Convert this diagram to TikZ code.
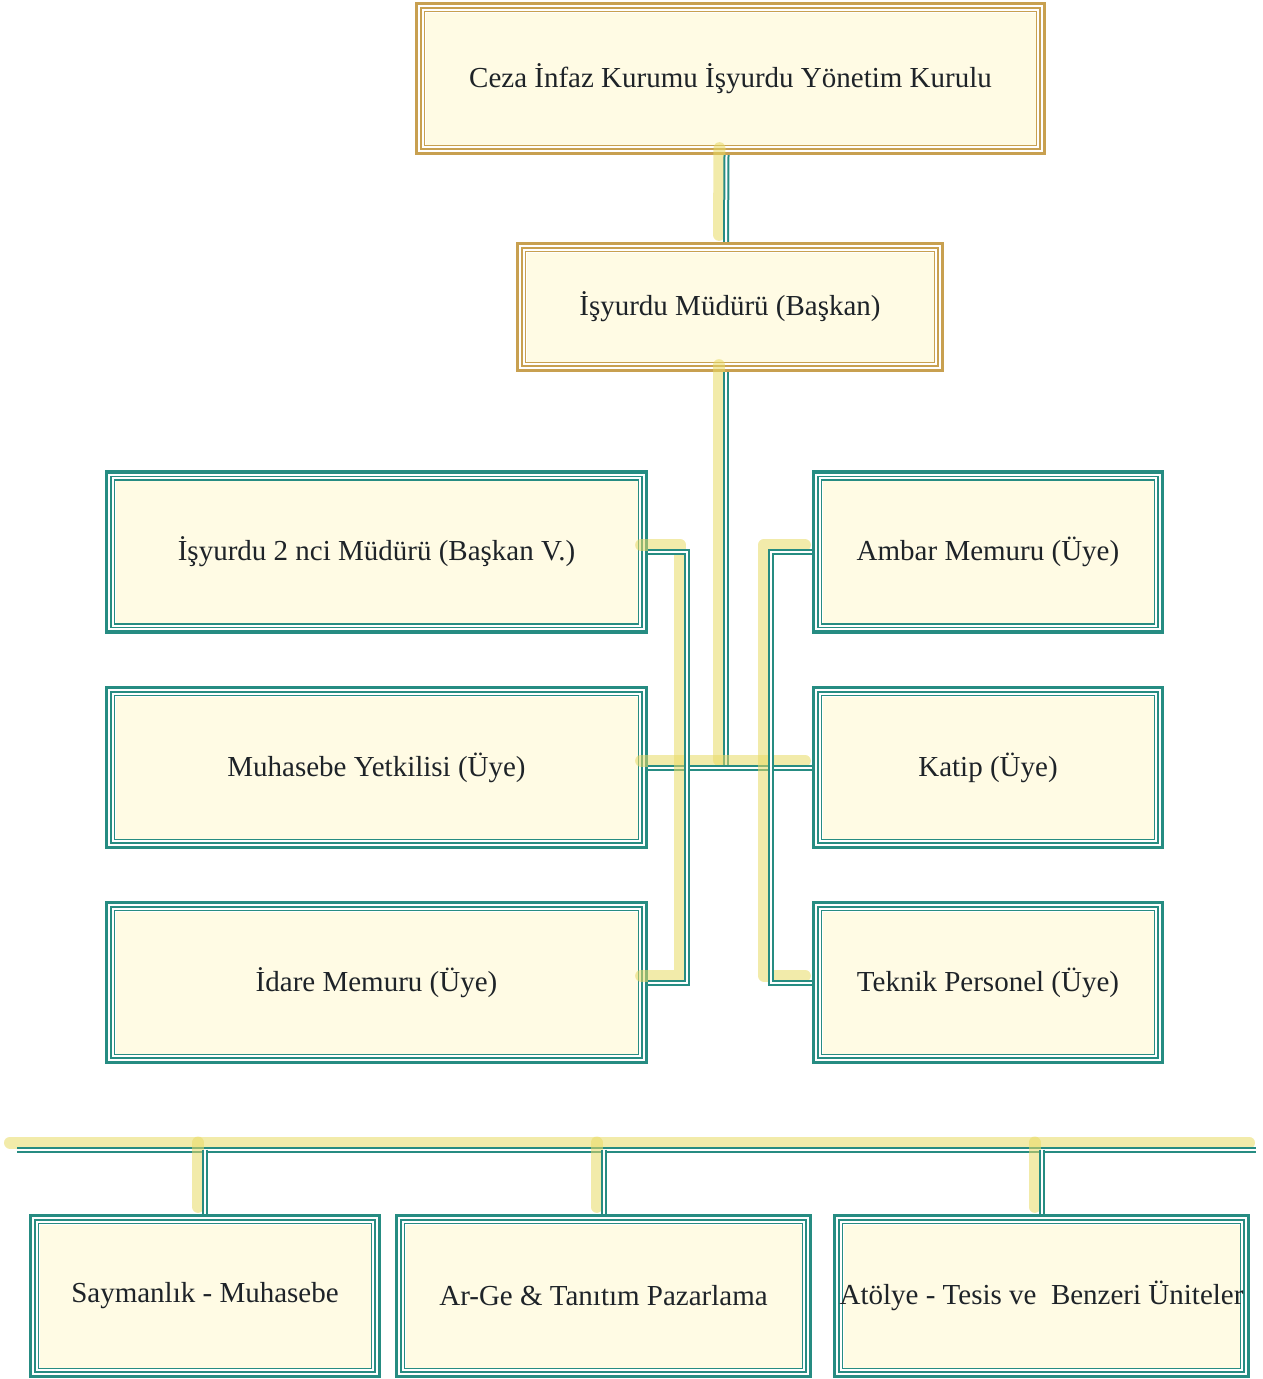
\documentclass[tikz,border=0pt]{standalone}
\usepackage{fontspec}
\setmainfont{Liberation Serif}
\usetikzlibrary{calc}

\definecolor{tealline}{RGB}{38,140,130}
\definecolor{goldline}{RGB}{200,160,80}
\definecolor{cream}{RGB}{255,251,228}
\definecolor{textdark}{RGB}{30,35,40}
\definecolor{shadeyellow}{RGB}{232,218,100}

\tikzset{
  frame/.style={rectangle, draw=#1, line width=3.3pt, fill=white, inner sep=0pt,
    font=\fontsize{29}{34}\selectfont, text=textdark,
    path picture={
      \fill[cream] ([shift={(9,9)}]path picture bounding box.north west)
        rectangle ([shift={(-9,-9)}]path picture bounding box.south east);
      \draw[#1, line width=1.8pt] ([shift={(4.5,4.5)}]path picture bounding box.north west)
        rectangle ([shift={(-4.5,-4.5)}]path picture bounding box.south east);
      \draw[#1, line width=1.8pt] ([shift={(8,8)}]path picture bounding box.north west)
        rectangle ([shift={(-8,-8)}]path picture bounding box.south east);
    }},
  goldbox/.style={frame=goldline},
  tealbox/.style={frame=tealline},
  link/.style={draw=tealline, line width=6pt,
    preaction={draw=shadeyellow, opacity=.55, line width=12pt, line cap=round,
      line join=round, transform canvas={shift={(-7,-7)}}},
    postaction={draw=white, line width=2pt}},
}

\begin{document}
\begin{tikzpicture}[x=1pt, y=-1pt]
  \useasboundingbox (0,0) rectangle (1262,1379);

  % top of the chart
  \node[goldbox, minimum width=628pt, minimum height=150pt] (kurul) at (730.5,78.5)
    {Ceza İnfaz Kurumu İşyurdu Yönetim Kurulu};
  \node[goldbox, minimum width=425pt, minimum height=127pt] (mudur) at (730,307)
    {İşyurdu Müdürü (Başkan)};

  % members
  \node[tealbox, minimum width=540pt, minimum height=160pt] (mudurii) at (376.5,552)
    {İşyurdu 2 nci Müdürü (Başkan V.)};
  \node[tealbox, minimum width=540pt, minimum height=160pt] (muhasebe) at (376.5,767.5)
    {Muhasebe Yetkilisi (Üye)};
  \node[tealbox, minimum width=540pt, minimum height=160pt] (idare) at (376.5,982.5)
    {İdare Memuru (Üye)};
  \node[tealbox, minimum width=349pt, minimum height=160pt] (ambar) at (988,552)
    {Ambar Memuru (Üye)};
  \node[tealbox, minimum width=349pt, minimum height=160pt] (katip) at (988,767.5)
    {Katip (Üye)};
  \node[tealbox, minimum width=349pt, minimum height=160pt] (teknik) at (988,982.5)
    {Teknik Personel (Üye)};

  % units
  \node[tealbox, minimum width=349pt, minimum height=161pt] (sayman) at (205,1296)
    {Saymanlık - Muhasebe};
  \node[tealbox, minimum width=414pt, minimum height=161pt] (arge) at (603.5,1296)
    {Ar-Ge \& Tanıtım Pazarlama};
  \node[tealbox, minimum width=414pt, minimum height=161pt] (atolye) at (1041.5,1296)
    {Atölye - Tesis ve\ \ Benzeri Üniteler};

  % connectors
  \coordinate (hub) at (726,767);
  \draw[link] ([xshift=-4]kurul.south) -- ([xshift=-4]mudur.north);
  \draw[link] ([xshift=-4]mudur.south) -- (hub);
  \draw[link] (muhasebe.east) -- (katip.west);
  \draw[link] (mudurii.east) -| ($(idare.east)+(39,0)$) -- (idare.east);
  \draw[link] (ambar.west) -| ($(teknik.west)+(-41,0)$) -- (teknik.west);

  \coordinate (busL) at (17,1149.5);
  \coordinate (busR) at (1256,1149.5);
  \draw[link] (busL) -- (busR);
  \foreach \n in {sayman,arge,atolye}
    \draw[link] (\n.north |- busL) -- (\n.north);
\end{tikzpicture}
\end{document}
